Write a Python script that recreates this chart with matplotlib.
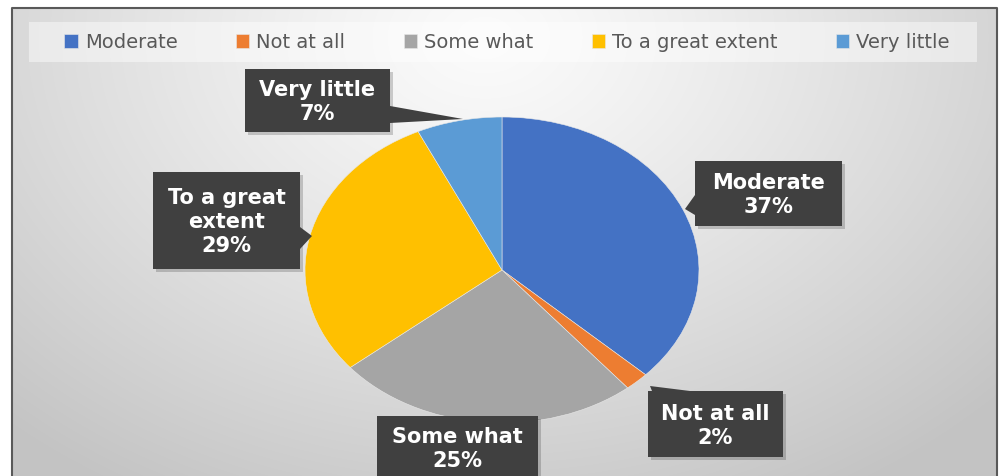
import numpy as np
import matplotlib.pyplot as plt
from matplotlib.patches import Rectangle, Polygon

categories = ['Moderate', 'Not at all', 'Some what', 'To a great extent', 'Very little']
values = [37, 2, 25, 29, 7]
colors = ['#4472C4', '#ED7D31', '#A5A5A5', '#FFC000', '#5B9BD5']

W, H = 1000, 477
fig = plt.figure(figsize=(W / 100, H / 100), dpi=100)
fig.patch.set_facecolor('white')

# background / frame layer in pixel coords (y down)
bg = fig.add_axes([0, 0, 1, 1], zorder=0)
bg.set_xlim(0, W)
bg.set_ylim(H, 0)
bg.axis('off')

yy, xx = np.mgrid[0:H, 0:W]
r = np.sqrt(((xx - 480) / 1.0) ** 2 + ((yy - 30) / 0.75) ** 2)
t = np.clip(r / 720, 0, 1)
shade = 0.985 - 0.22 * t ** 1.2
img = np.dstack([shade, shade, shade])
bg.imshow(img, extent=(12, 997, H, 9), aspect='auto', zorder=0)
bg.plot([12, 12, 997, 997], [H, 9, 9, H], color='#595959', lw=1.5, zorder=2)

# legend band
bg.add_patch(Rectangle((29, 23), 948, 40, facecolor='white', alpha=0.45,
                       edgecolor='none', zorder=1))

# pie (squashed, like the original)
cx, cy, rx, ry = 502, 271, 197, 153
pax = fig.add_axes([(cx - rx) / W, (H - cy - ry) / H, 2 * rx / W, 2 * ry / H], zorder=1)
wedges, _ = pax.pie(values, colors=colors, startangle=90, counterclock=False,
                    radius=1, wedgeprops=dict(linewidth=0.4, edgecolor='#e8e8e8'))
pax.set_aspect('auto')
pax.set_xlim(-1, 1)
pax.set_ylim(-1, 1)

leg = fig.legend(wedges, categories, loc='center', bbox_to_anchor=(507 / W, 1 - 43 / H),
                 ncol=5, frameon=False, fontsize=14, handlelength=0.7, handleheight=0.7,
                 handletextpad=0.35, columnspacing=3.0, labelcolor='#595959')

# data label callouts
lab = fig.add_axes([0, 0, 1, 1], zorder=3)
lab.set_xlim(0, W)
lab.set_ylim(H, 0)
lab.axis('off')
lab.patch.set_alpha(0)

boxes = {
    'Moderate': (695, 162, 147, 65),
    'Not at all': (648, 392, 135, 66),
    'Some what': (377, 417, 161, 70),
    'To a great extent': (153, 173, 147, 97),
    'Very little': (245, 70, 145, 63),
}
pointers = {
    'Moderate': [(695, 196), (695, 216), (685, 210)],
    'Not at all': [(652, 392), (690, 392), (650, 387)],
    'Some what': None,
    'To a great extent': [(300, 228), (300, 250), (312, 237)],
    'Very little': [(390, 107), (390, 124), (463, 120)],
}
box_text = {
    'To a great extent': 'To a great\nextent',
}
for name, v in zip(categories, values):
    x0, y0, w, h = boxes[name]
    lab.add_patch(Rectangle((x0 + 3, y0 + 3), w, h, facecolor='black', alpha=0.18,
                            edgecolor='none', zorder=1))
    lab.add_patch(Rectangle((x0, y0), w, h, facecolor='#404040', edgecolor='none', zorder=2))
    if pointers[name]:
        lab.add_patch(Polygon(pointers[name], closed=True, facecolor='#404040',
                              edgecolor='none', zorder=2))
    txt = box_text.get(name, name) + '\n%d%%' % v
    ty = y0 + h / 2 + 1 if name != 'Some what' else y0 + 32
    lab.text(x0 + w / 2, ty, txt, ha='center', va='center', color='white',
             fontsize=15, fontweight='bold', linespacing=1.25, zorder=3)

fig.savefig('out.png', dpi=100)
